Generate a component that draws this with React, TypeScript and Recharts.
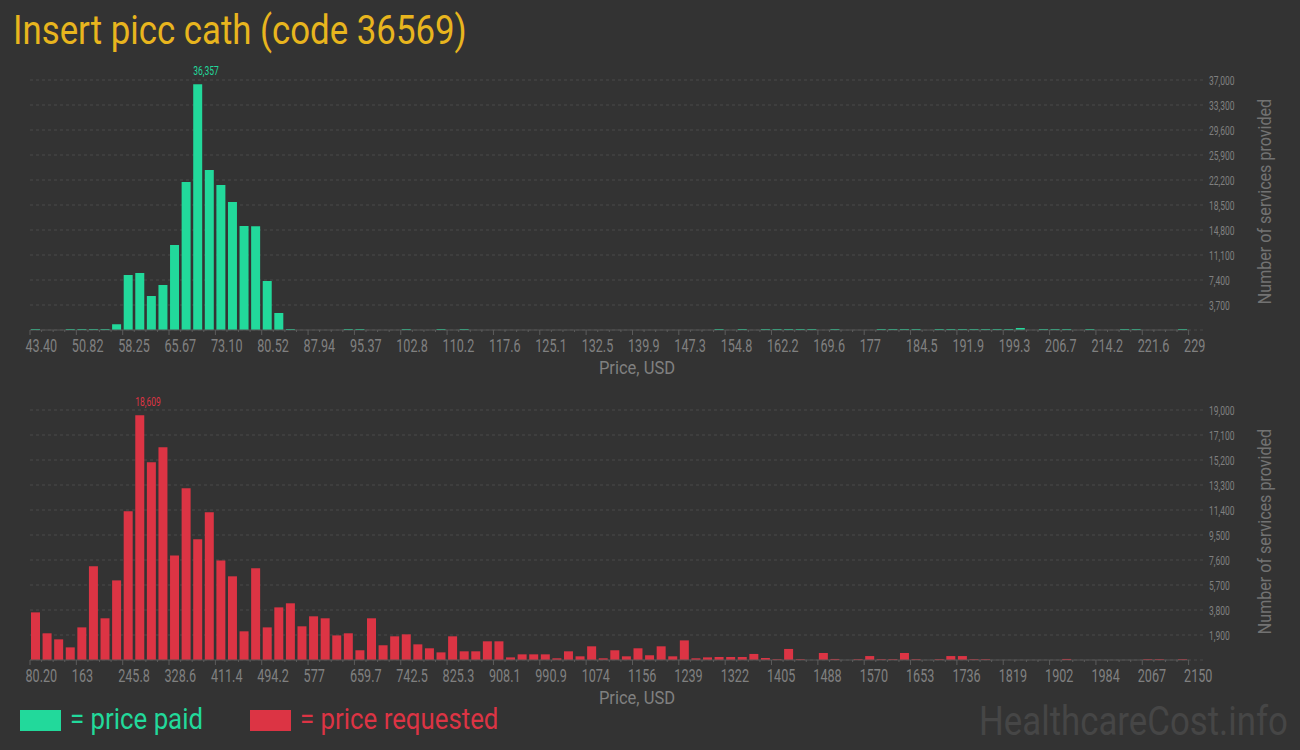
import { BarChart, Bar, XAxis, YAxis, CartesianGrid, ReferenceLine, LabelList } from 'recharts'

const paidPriceLabels = [
  '43.40', '50.82', '58.25', '65.67', '73.10', '80.52', '87.94', '95.37', '102.8', '110.2',
  '117.6', '125.1', '132.5', '139.9', '147.3', '154.8', '162.2', '169.6', '177', '184.5',
  '191.9', '199.3', '206.7', '214.2', '221.6', '229',
]

// services per price bin, 100 bins from 43.40 to 229
const paidCounts = [
  150, 0, 0, 150, 150, 150, 150, 850, 8140, 8440,
  5030, 6660, 12580, 21900, 36357, 23680, 21460, 18940, 15390, 15350,
  7250, 2520, 150, 0, 0, 0, 0, 150, 150, 0,
  0, 0, 150, 0, 0, 150, 0, 150, 0, 0,
  0, 0, 0, 0, 0, 0, 0, 0, 0, 0,
  0, 0, 0, 0, 0, 0, 0, 0, 0, 150,
  0, 150, 0, 150, 150, 150, 150, 150, 0, 150,
  0, 0, 0, 150, 150, 150, 150, 0, 150, 150,
  150, 150, 150, 150, 150, 300, 0, 150, 150, 150,
  0, 150, 0, 0, 150, 150, 0, 0, 0, 150,
]

const paidTicks = [3700, 7400, 11100, 14800, 18500, 22200, 25900, 29600, 33300, 37000]

const requestedPriceLabels = [
  '80.20', '163', '245.8', '328.6', '411.4', '494.2', '577', '659.7', '742.5', '825.3',
  '908.1', '990.9', '1074', '1156', '1239', '1322', '1405', '1488', '1570', '1653',
  '1736', '1819', '1902', '1984', '2067', '2150',
]

// services per price bin, 100 bins from 80.20 to 2150
const requestedCounts = [
  3620, 2030, 1570, 960, 2480, 7120, 3170, 6050, 11300, 18609,
  15020, 16160, 7950, 13050, 9170, 11220, 7570, 6360, 2180, 6970,
  2480, 4000, 4310, 2560, 3320, 3170, 1870, 2030, 740, 3170,
  1120, 1800, 1950, 1190, 890, 580, 1800, 660, 660, 1420,
  1420, 200, 430, 430, 430, 130, 660, 280, 1040, 130,
  740, 280, 890, 360, 1040, 280, 1490, 130, 200, 230,
  230, 230, 460, 150, 60, 840, 60, 0, 530, 80,
  0, 60, 300, 60, 60, 530, 60, 0, 60, 300,
  300, 60, 60, 0, 0, 0, 0, 0, 0, 80,
  0, 0, 0, 0, 0, 0, 60, 60, 0, 60,
]

const requestedTicks = [1900, 3800, 5700, 7600, 9500, 11400, 13300, 15200, 17100, 19000]

const GREEN = '#22d99b'
const RED = '#dc3444'
const BG = '#333333'
const AXIS_TEXT = '#808080'
const FONT = 'Roboto, sans-serif'

const binEdges = Array.from({ length: paidCounts.length + 1 }, (_, i) => i)

function PriceTick(props: any) {
  const { x, y, payload, labels } = props
  const i = payload.value as number
  const major = i % 4 === 0
  return (
    <g>
      <line x1={x} x2={x} y1={y} y2={y + (major ? 5 : 2)} stroke="#5c5c5c" />
      {major && (
        <text
          transform={`translate(${x - 4.5},${y + 22}) scale(0.7,1)`}
          fill={AXIS_TEXT}
          fontSize={18}
          fontFamily={FONT}
        >
          {labels[i / 4]}
        </text>
      )}
    </g>
  )
}

function CountTick(props: any) {
  const { x, y, payload } = props
  return (
    <text
      transform={`translate(${x + 3},${y + 4.5}) scale(0.68,1)`}
      fill={AXIS_TEXT}
      fontSize={12.5}
      fontFamily={FONT}
    >
      {Number(payload.value).toLocaleString('en-US')}
    </text>
  )
}

function Histogram({ counts, labels, ticks, color }: { counts: number[]; labels: string[]; ticks: number[]; color: string }) {
  const data = counts.map((count, i) => ({ bin: i + 0.5, count }))
  const peak = Math.max(...counts)
  const top = ticks[ticks.length - 1]

  const PeakLabel = (p: any) => {
    if (p.value !== peak) return null
    return (
      <text
        transform={`translate(${p.x},${p.y - 9}) scale(0.68,1)`}
        fill={color}
        fontSize={12.5}
        fontFamily={FONT}
      >
        {Number(p.value).toLocaleString('en-US')}
      </text>
    )
  }

  return (
    <BarChart width={1300} height={380} data={data} margin={{ top: 80, right: 0, bottom: 0, left: 30 }}>
      <CartesianGrid vertical={false} stroke="#4b4b4b" strokeDasharray="3 3" />
      <XAxis
        type="number"
        dataKey="bin"
        domain={[0, 101.5]}
        ticks={binEdges}
        interval={0}
        height={50}
        axisLine={false}
        tickLine={false}
        tickSize={0}
        tickMargin={0}
        tick={<PriceTick labels={labels} />}
      />
      <YAxis
        orientation="right"
        domain={[0, top]}
        ticks={ticks}
        interval={0}
        width={94}
        axisLine={false}
        tickLine={false}
        tickSize={0}
        tickMargin={0}
        tick={<CountTick />}
      />
      <ReferenceLine segment={[{ x: 0, y: 0 }, { x: counts.length, y: 0 }]} stroke="#555555" />
      <Bar dataKey="count" fill={color} barSize={9} isAnimationActive={false}>
        <LabelList dataKey="count" content={PeakLabel} />
      </Bar>
    </BarChart>
  )
}

export default function App() {
  return (
    <div style={{ position: 'absolute', left: 0, top: 0, width: 1300, height: 750, background: BG, overflow: 'hidden' }}>
      <div style={{ position: 'absolute', left: 0, top: 0 }}>
        <Histogram counts={paidCounts} labels={paidPriceLabels} ticks={paidTicks} color={GREEN} />
      </div>
      <div style={{ position: 'absolute', left: 0, top: 330 }}>
        <Histogram counts={requestedCounts} labels={requestedPriceLabels} ticks={requestedTicks} color={RED} />
      </div>
      <svg width={1300} height={750} style={{ position: 'absolute', left: 0, top: 0, pointerEvents: 'none' }} fontFamily={FONT}>
        <text transform="translate(13,44) scale(0.87,1)" fontSize={40} fill="#e8b51e">
          Insert picc cath (code 36569)
        </text>

        <text transform="translate(637,374) scale(0.87,1)" fontSize={19} fill={AXIS_TEXT} textAnchor="middle">
          Price, USD
        </text>
        <text transform="translate(637,704) scale(0.87,1)" fontSize={19} fill={AXIS_TEXT} textAnchor="middle">
          Price, USD
        </text>

        <text transform="translate(1271,201.5) rotate(-90) scale(0.87,1)" fontSize={18.5} fill="#727272" textAnchor="middle">
          Number of services provided
        </text>
        <text transform="translate(1271,531.5) rotate(-90) scale(0.87,1)" fontSize={18.5} fill="#727272" textAnchor="middle">
          Number of services provided
        </text>

        <rect x={20} y={710} width={41} height={21} fill={GREEN} />
        <text transform="translate(70,729) scale(0.89,1)" fontSize={29} fill={GREEN}>
          = price paid
        </text>
        <rect x={250} y={710} width={41} height={21} fill={RED} />
        <text transform="translate(300,729) scale(0.89,1)" fontSize={29} fill={RED}>
          = price requested
        </text>

        <text transform="translate(979,735) scale(0.87,1)" fontSize={40} fill="#464646">
          HealthcareCost.info
        </text>
      </svg>
    </div>
  )
}
